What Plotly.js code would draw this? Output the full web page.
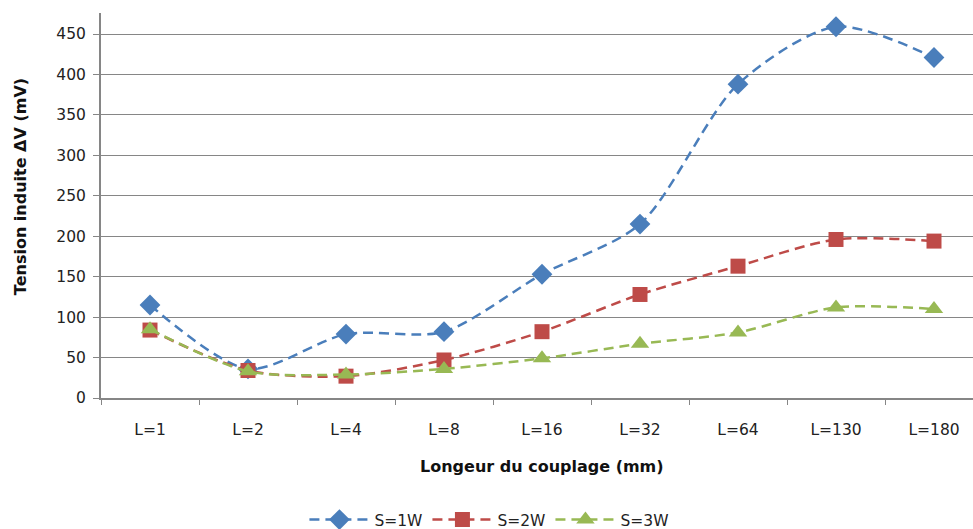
<!DOCTYPE html>
<html><head><meta charset="utf-8">
<script src="https://cdn.plot.ly/plotly-3.0.1.min.js"></script>
<style>html,body{margin:0;padding:0;background:#fff}#c{width:973px;height:529px}</style>
</head><body><div id="c"></div>
<script>
const categories = ["L=1","L=2","L=4","L=8","L=16","L=32","L=64","L=130","L=180"];
const s1 = [115, 36, 79, 82, 153, 215, 388, 459, 421];
const s2 = [84, 34, 27, 47, 82, 128, 163, 196, 194];
const s3 = [85, 33, 29, 36, 49, 67, 81, 112, 110];
const names = ["S=1W","S=2W","S=3W"];
const colors = ["#4A7EBB","#BE4B48","#98B954"];
const symbols = ["diamond","square","triangle-up"];
const sizes = [16, 15, 16];
const series = [s1, s2, s3];
const font = "'DejaVu Sans', sans-serif";

const traces = series.map((v,i)=>({
  x: categories, y: v, name: names[i], type: "scatter", mode: "lines+markers",
  line: {color: colors[i], width: 2.5, dash: "10px,6px", shape: "spline", smoothing: 0.8},
  marker: {symbol: symbols[i], size: sizes[i], color: colors[i]}
}));

const layout = {
  width: 973, height: 529,
  margin: {l: 101, r: 0, t: 13, b: 131},
  paper_bgcolor: "#fff", plot_bgcolor: "#fff",
  font: {family: font, size: 15.5, color: "#222"},
  showlegend: true,
  legend: {orientation: "h", xref: "container", yref: "container", x: 0.503, xanchor: "center",
           y: 0.017, yanchor: "middle",
           font: {family: font, size: 15.5, color: "#222"}, itemwidth: 60},
  xaxis: {type: "category", range: [-0.5, 8.398], tickson: "boundaries",
          ticks: "outside", ticklen: 5, tickcolor: "#868686",
          showline: true, linecolor: "#868686", linewidth: 1.5,
          showgrid: false, zeroline: false, ticklabelstandoff: 17, automargin: false,
          tickfont: {family: font, size: 15.5, color: "#222"}},
  yaxis: {range: [0, 476], tickvals: [0,50,100,150,200,250,300,350,400,450],
          ticks: "outside", ticklen: 6, tickcolor: "#868686",
          showline: true, linecolor: "#868686", linewidth: 2,
          showgrid: true, gridcolor: "#868686", gridwidth: 1, zeroline: false,
          ticklabelstandoff: 4, automargin: false,
          tickfont: {family: font, size: 15.5, color: "#222"}},
  annotations: [
    {text: "<b>Longeur du couplage (mm)</b>", xref: "paper", yref: "paper",
     x: 0.5057, y: -0.177, xanchor: "center", yanchor: "middle", showarrow: false,
     font: {family: font, size: 16, color: "#111"}},
    {text: "<b>Tension induite ΔV (mV)</b>", xref: "paper", yref: "paper",
     x: -0.093, y: 0.55, xanchor: "center", yanchor: "middle", textangle: -90, showarrow: false,
     font: {family: font, size: 16, color: "#111"}}
  ]
};
Plotly.newPlot("c", traces, layout, {displayModeBar: false, staticPlot: true});
</script></body></html>
